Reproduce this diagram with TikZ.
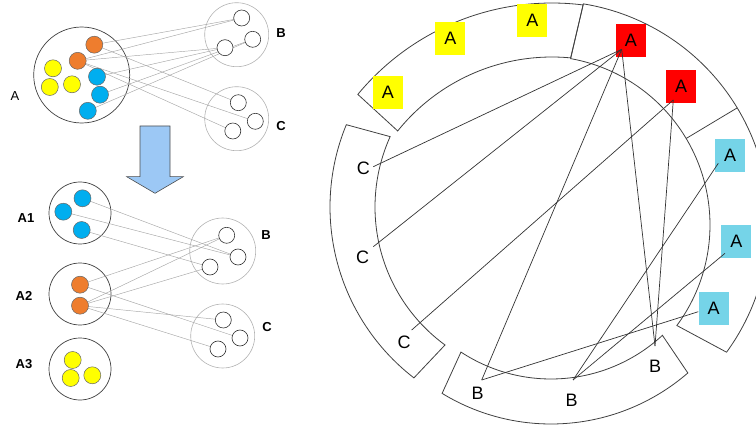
\documentclass[tikz,border=0pt]{standalone}
\usepackage{fontspec}
\setmainfont{Liberation Sans}
\definecolor{ayel}{HTML}{FFFF00}
\definecolor{ared}{HTML}{FF0000}
\definecolor{acyan}{HTML}{75D4E8}
\definecolor{dorange}{HTML}{EE7D2E}
\definecolor{dblue}{HTML}{00AEEF}
\definecolor{arrowblue}{HTML}{9CC8F5}
\begin{document}
\begin{tikzpicture}[x=1pt,y=-1pt,
  seg/.style={draw=black!75, line width=0.8pt, line join=miter},
  chord/.style={draw=black!80, line width=0.7pt},
  lbl/.style={font=\fontsize{18}{20}\selectfont, inner sep=0pt},
  abox/.style={lbl, minimum width=30pt, minimum height=33pt},
  small/.style={font=\fontsize{13}{15}\selectfont, inner sep=0pt},
  bigc/.style={circle, draw=black!75, line width=0.7pt, inner sep=0pt},
  grayc/.style={circle, draw=black!30, line width=0.6pt, inner sep=0pt},
  dot/.style={circle, draw=black!60, line width=0.5pt, minimum size=17pt, inner sep=0pt},
  hole/.style={circle, draw=black!80, fill=white, line width=0.6pt, minimum size=16pt, inner sep=0pt},
  thin/.style={draw=black!35, line width=0.45pt}]
\useasboundingbox (0,0) rectangle (756,433);

% ---------- right: ring sectors ----------
% yellow sector
\draw[seg] plot[domain=-140.4:-82.9, samples=60] ({552+252*cos(\x)},{255+252*sin(\x)})
  -- plot[domain=-84.6:-141.2, samples=60] ({552+198*cos(\x)},{255+198*sin(\x)}) -- cycle;
% red + cyan sector
\draw[seg] plot[domain=-80.8:36.1, samples=90] ({548+221*cos(\x)},{222+221*sin(\x)})
  -- plot[domain=36.5:-79.9, samples=90] ({541+169*cos(\x)},{225+169*sin(\x)}) -- cycle;
\draw[seg] ({548+221*cos(-31.1)},{222+221*sin(-31.1)}) -- ({541+169*cos(-30.8)},{225+169*sin(-30.8)});
% B sector
\draw[seg] plot[domain=121.4:49.1, samples=60] ({551+209*cos(\x)},{215+209*sin(\x)})
  -- plot[domain=47.2:123.3, samples=60] ({551+164*cos(\x)},{215+164*sin(\x)}) -- cycle;
% C sector
\draw[seg] plot[domain=202.4:127.7, samples=60] ({546+216*cos(\x)},{207+216*sin(\x)})
  -- plot[domain=126.2:204.3, samples=60] ({546+171*cos(\x)},{207+171*sin(\x)}) -- cycle;

% labels
\node[abox, fill=ayel] (y1) at (388,92.7) {A};
\node[abox, fill=ayel] (y2) at (450.3,38.7) {A};
\node[abox, fill=ayel] (y3) at (532.3,20.8) {A};
\node[abox, fill=ared] (r1) at (630.8,40.3) {A};
\node[abox, fill=ared] (r2) at (681,86.7) {A};
\node[abox, fill=acyan] (k1) at (730,155.5) {A};
\node[abox, fill=acyan] (k2) at (736.3,241.3) {A};
\node[abox, fill=acyan] (k3) at (713.7,308.5) {A};
\node[lbl] (c1) at (363.3,168.3) {C};
\node[lbl] (c2) at (362.7,257.3) {C};
\node[lbl] (c3) at (404,342.7) {C};
\node[lbl] (bb1) at (477.7,393.3) {B};
\node[lbl] (bb2) at (571.7,400.7) {B};
\node[lbl] (bb3) at (655,366.7) {B};

% chord end points
\coordinate (pC1) at (373.3,166.7);
\coordinate (pC2) at (373.3,246.7);
\coordinate (pC3) at (411.7,330);
\coordinate (pB1) at (481.7,380);
\coordinate (pB2) at (573,380);
\coordinate (pB3) at (655,346);
\coordinate (pR1) at (621.7,49.3);
\coordinate (pR2) at (673.3,100);
\coordinate (pK1) at (718.3,163.3);
\coordinate (pK2) at (725,253.3);
\coordinate (pK3) at (698.3,311.7);

\draw[chord] (pC1) -- (pR1);
\draw[chord] (pC2) -- (pR1);
\draw[chord] (pC3) -- (pR2);
\draw[chord] (pB1) -- (pR1);
\draw[chord] (pB3) -- (pR1);
\draw[chord] (pB3) -- (pR2);
\draw[chord] (pB2) -- (pK1);
\draw[chord] (pB2) -- (pK2);
\draw[chord] (pB1) -- (pK3);

% ---------- left top ----------
\node[bigc, minimum size=96pt] (A) at (81.7,75) {};
\node[grayc, minimum size=64pt] (B) at (236.7,34.7) {};
\node[grayc, minimum size=64pt] (C) at (236.7,118.7) {};
\node[small] (la) at (15,96) {A};
\node[small] (lb) at (281,33.3) {\bfseries B};
\node[small] (lc) at (281,126) {\bfseries C};

\coordinate (o1c) at (94.3,44.7);
\coordinate (o2c) at (77.7,60.8);
\coordinate (u1c) at (97,76.7);
\coordinate (u2c) at (100,94.7);
\coordinate (u3c) at (87.8,110.8);
\coordinate (b1c) at (241.7,18);
\coordinate (b2c) at (252.7,39.3);
\coordinate (b3c) at (225,47.7);
\coordinate (c1c) at (238.3,102.7);
\coordinate (c2c) at (255.3,121.3);
\coordinate (c3c) at (232.8,131);

\draw[thin] (o1c) -- (b1c);
\draw[thin] (o2c) -- (b1c);
\draw[thin] (o2c) -- (b3c);
\draw[thin] (u1c) -- (b3c);
\draw[thin] (u2c) -- (b2c);
\draw[thin] (u3c) -- (b2c);
\draw[thin] (o1c) -- (c1c);
\draw[thin] (o2c) -- (c2c);
\draw[thin] (o2c) -- (c3c);

\node[dot, fill=dorange] (o1) at (o1c) {};
\node[dot, fill=dorange] (o2) at (o2c) {};
\node[dot, fill=ayel] (w1) at (53,68.3) {};
\node[dot, fill=ayel] (w2) at (49.8,87) {};
\node[dot, fill=ayel] (w3) at (72,84.3) {};
\node[dot, fill=dblue] (u1) at (u1c) {};
\node[dot, fill=dblue] (u2) at (u2c) {};
\node[dot, fill=dblue] (u3) at (u3c) {};
\node[hole] (b1) at (b1c) {};
\node[hole] (b2) at (b2c) {};
\node[hole] (b3) at (b3c) {};
\node[hole] (cc1) at (c1c) {};
\node[hole] (cc2) at (c2c) {};
\node[hole] (cc3) at (c3c) {};

% arrow
\draw[fill=arrowblue, draw=black!70, line width=0.6pt] (140,126) -- (170,126) -- (170,176.7) -- (183.3,176.7) -- (155,193.3) -- (126.7,176.7) -- (140,176.7) -- cycle;

% ---------- left bottom ----------
\node[bigc, minimum size=62pt] (A1) at (80,213) {};
\node[bigc, minimum size=62pt] (A2) at (80,294) {};
\node[bigc, minimum size=62pt] (A3) at (80,369) {};
\node[grayc, minimum size=66pt] (B2g) at (222.7,251) {};
\node[grayc, minimum size=64pt] (C2g) at (222.7,336) {};
\node[small] (la1) at (26,218.3) {\bfseries A1};
\node[small] (la2) at (24,296) {\bfseries A2};
\node[small] (la3) at (24,364) {\bfseries A3};
\node[small] (lb2) at (266,235) {\bfseries B};
\node[small] (lc2) at (267,327) {\bfseries C};

\coordinate (v1c) at (82.5,198.3);
\coordinate (v2c) at (63.3,211.7);
\coordinate (v3c) at (81.7,230);
\coordinate (q1c) at (80,284.7);
\coordinate (q2c) at (80,305.7);
\coordinate (d1c) at (226.7,235.3);
\coordinate (d2c) at (238,257);
\coordinate (d3c) at (210,267);
\coordinate (e1c) at (223.3,320);
\coordinate (e2c) at (240,338);
\coordinate (e3c) at (218,349);

\draw[thin] (v1c) -- (d2c);
\draw[thin] (v2c) -- (d2c);
\draw[thin] (v3c) -- (d3c);
\draw[thin] (q1c) -- (d1c);
\draw[thin] (q2c) -- (d1c);
\draw[thin] (q2c) -- (d3c);
\draw[thin] (q1c) -- (e2c);
\draw[thin] (q2c) -- (e3c);
\draw[thin] (q2c) -- (e1c);

\node[dot, fill=dblue] (v1) at (v1c) {};
\node[dot, fill=dblue] (v2) at (v2c) {};
\node[dot, fill=dblue] (v3) at (v3c) {};
\node[dot, fill=dorange] (q1) at (q1c) {};
\node[dot, fill=dorange] (q2) at (q2c) {};
\node[dot, fill=ayel] (z1) at (72.7,360) {};
\node[dot, fill=ayel] (z2) at (70.7,378) {};
\node[dot, fill=ayel] (z3) at (92.3,375.3) {};
\node[hole] (d1) at (d1c) {};
\node[hole] (d2) at (d2c) {};
\node[hole] (d3) at (d3c) {};
\node[hole] (e1) at (e1c) {};
\node[hole] (e2) at (e2c) {};
\node[hole] (e3) at (e3c) {};
\end{tikzpicture}
\end{document}
